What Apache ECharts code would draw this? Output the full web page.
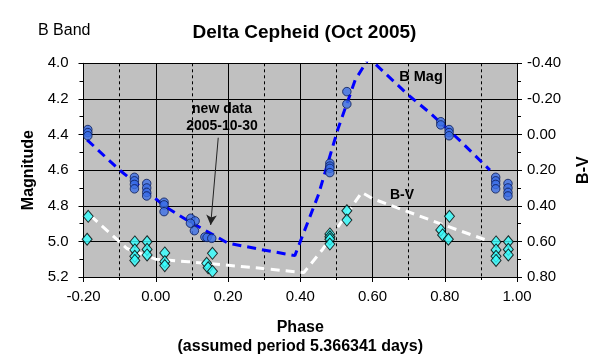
<!DOCTYPE html>
<html><head><meta charset="utf-8">
<script src="https://cdn.jsdelivr.net/npm/echarts@6/dist/echarts.min.js"></script>
<style>html,body{margin:0;padding:0;background:#fff}#c{width:609px;height:361px}</style>
</head><body><div id="c"></div>
<script>
// B magnitude observations (phase in [0,1))
const bPhase = [0.789,0.789,0.812,0.812,0.812,0.941,0.941,0.941,0.941,0.975,0.975,0.975,0.975,0.023,0.023,0.023,0.097,0.109,0.096,0.107,0.136,0.142,0.155,0.482,0.482,0.482,0.482,0.529,0.529];
const bMag   = [4.328,4.346,4.372,4.389,4.407,4.640,4.660,4.680,4.705,4.675,4.700,4.725,4.745,4.780,4.795,4.833,4.870,4.885,4.898,4.940,4.975,4.978,4.983,4.561,4.577,4.590,4.614,4.159,4.229];
// B-V observations
const cPhase = [0.789,0.794,0.810,0.813,0.942,0.942,0.942,0.942,0.976,0.976,0.976,0.025,0.025,0.025,0.141,0.145,0.157,0.157,0.482,0.482,0.482,0.482,0.529,0.529];
const cBV    = [0.536,0.564,0.588,0.459,0.603,0.648,0.684,0.707,0.602,0.645,0.676,0.665,0.714,0.736,0.723,0.748,0.667,0.768,0.558,0.574,0.588,0.615,0.428,0.480];
// Fitted curves
const bFitPhase = [-0.19,-0.10,0.03,0.086,0.20,0.29,0.385,0.45,0.505,0.552,0.59,0.70,0.76,0.84,0.925];
const bFitMag   = [4.43,4.60,4.81,4.88,5.01,5.045,5.08,4.74,4.365,4.094,3.97,4.18,4.28,4.43,4.60];
const bvFitPhase = [-0.18,-0.08,0.0,0.09,0.29,0.41,0.46,0.57,0.60,0.80,0.925];
const bvFitVal   = [0.456,0.64,0.70,0.714,0.751,0.775,0.65,0.325,0.36,0.51,0.60];
// Arrow annotation (phase, mag)
const arrowFrom = [0.173, 4.418];
const arrowTo   = [0.152, 4.908];

const FONT = "'Liberation Sans', Arial, sans-serif";
// points with phase >= 0.8 are repeated at phase-1
function withWrap(ph, v){
  const out = [];
  for (let i=0;i<ph.length;i++){
    out.push([ph[i], v[i]]);
    if (ph[i] >= 0.8) out.push([+(ph[i]-1).toFixed(3), v[i]]);
  }
  return out;
}
const zip = (a,b)=>a.map((x,i)=>[x,b[i]]);
const fix = d => v => (Math.abs(v)<1e-9?0:v).toFixed(d);

const chart = echarts.init(document.getElementById('c'), null, {renderer:'canvas'});
chart.setOption({
  animation:false,
  backgroundColor:'#ffffff',
  title:{text:'Delta Cepheid (Oct 2005)', left:'center', top:18,
    textStyle:{fontFamily:FONT, fontSize:19, fontWeight:'bold', color:'#000'}},
  grid:{left:83.5, right:92, top:63.3, bottom:84, show:true, backgroundColor:'#c0c0c0', borderWidth:0},
  xAxis:{type:'value', min:-0.2, max:1.0, interval:0.2,
    name:'Phase\n(assumed period 5.366341 days)', nameLocation:'middle', nameGap:41,
    nameTextStyle:{fontFamily:FONT, fontSize:16, fontWeight:'bold', color:'#000', lineHeight:19},
    axisLine:{show:true, onZero:false, lineStyle:{color:'#000', width:1}},
    axisTick:{show:true, length:5, lineStyle:{color:'#000'}},
    minorTick:{show:true, splitNumber:2, length:3, lineStyle:{color:'#000'}},
    axisLabel:{formatter:fix(2), fontFamily:FONT, fontSize:15, color:'#000', margin:12},
    splitLine:{show:true, lineStyle:{color:'#000', width:1}},
    minorSplitLine:{show:true, lineStyle:{color:'#000', width:1, type:[3,3]}}
  },
  yAxis:[
    {type:'value', min:4.0, max:5.2, interval:0.2, inverse:true, position:'left',
      name:'Magnitude', nameLocation:'middle', nameGap:45, nameRotate:90,
      nameTextStyle:{fontFamily:FONT, fontSize:16, fontWeight:'bold', color:'#000'},
      axisLine:{show:true, onZero:false, lineStyle:{color:'#000', width:1}},
      axisTick:{show:true, length:5, lineStyle:{color:'#000'}},
      minorTick:{show:true, splitNumber:2, length:4, lineStyle:{color:'#000'}},
      axisLabel:{formatter:fix(1), fontFamily:FONT, fontSize:15, color:'#000', margin:15},
      splitLine:{show:true, lineStyle:{color:'#000', width:1}}
    },
    {type:'value', min:-0.4, max:0.8, interval:0.2, inverse:true, position:'right',
      name:'B-V', nameLocation:'middle', nameGap:59, nameRotate:90,
      nameTextStyle:{fontFamily:FONT, fontSize:16, fontWeight:'bold', color:'#000'},
      axisLine:{show:true, onZero:false, lineStyle:{color:'#000', width:1}},
      axisTick:{show:true, length:5, lineStyle:{color:'#000'}},
      minorTick:{show:true, splitNumber:2, length:4, lineStyle:{color:'#000'}},
      axisLabel:{formatter:fix(2), fontFamily:FONT, fontSize:15, color:'#000', margin:10},
      splitLine:{show:false}
    }
  ],
  series:[
    {type:'line', name:'B fit', yAxisIndex:0, data:zip(bFitPhase,bFitMag), symbol:'none', clip:true, z:2,
      lineStyle:{color:'#0000ff', width:3, type:[9,6]}},
    {type:'line', name:'B-V fit', yAxisIndex:1, data:zip(bvFitPhase,bvFitVal), symbol:'none', clip:true, z:2,
      lineStyle:{color:'#ffffff', width:3, type:[9,6]}},
    {type:'scatter', name:'B Mag', yAxisIndex:0, data:withWrap(bPhase,bMag), symbol:'circle', symbolSize:8.5, z:3,
      itemStyle:{color:'#3b6ee6', borderColor:'#0a1a55', borderWidth:1},
      markLine:{silent:true, symbol:['none','arrow'], symbolSize:[8,10],
        lineStyle:{color:'#222', width:1, type:'solid'}, label:{show:false},
        data:[[{coord:arrowFrom},{coord:arrowTo}]]}
    },
    {type:'scatter', name:'B-V', yAxisIndex:1, data:withWrap(cPhase,cBV), symbol:'diamond', symbolSize:[10,12], z:4,
      itemStyle:{color:'#33ffff', borderColor:'#000', borderWidth:1}}
  ],
  graphic:[
    {type:'text', left:38, top:23, style:{text:'B Band', font:"16px "+FONT, fill:'#000'}},
    {type:'text', x:421, y:77, style:{text:'B Mag', font:"bold 14.5px "+FONT, fill:'#000', align:'center', verticalAlign:'middle'}},
    {type:'text', x:402, y:195, style:{text:'B-V', font:"bold 14px "+FONT, fill:'#000', align:'center', verticalAlign:'middle'}},
    {type:'text', x:222, y:109, style:{text:'new data', font:"bold 14px "+FONT, fill:'#000', align:'center', verticalAlign:'middle'}},
    {type:'text', x:222, y:126, style:{text:'2005-10-30', font:"bold 14px "+FONT, fill:'#000', align:'center', verticalAlign:'middle'}}
  ]
});
</script></body></html>
